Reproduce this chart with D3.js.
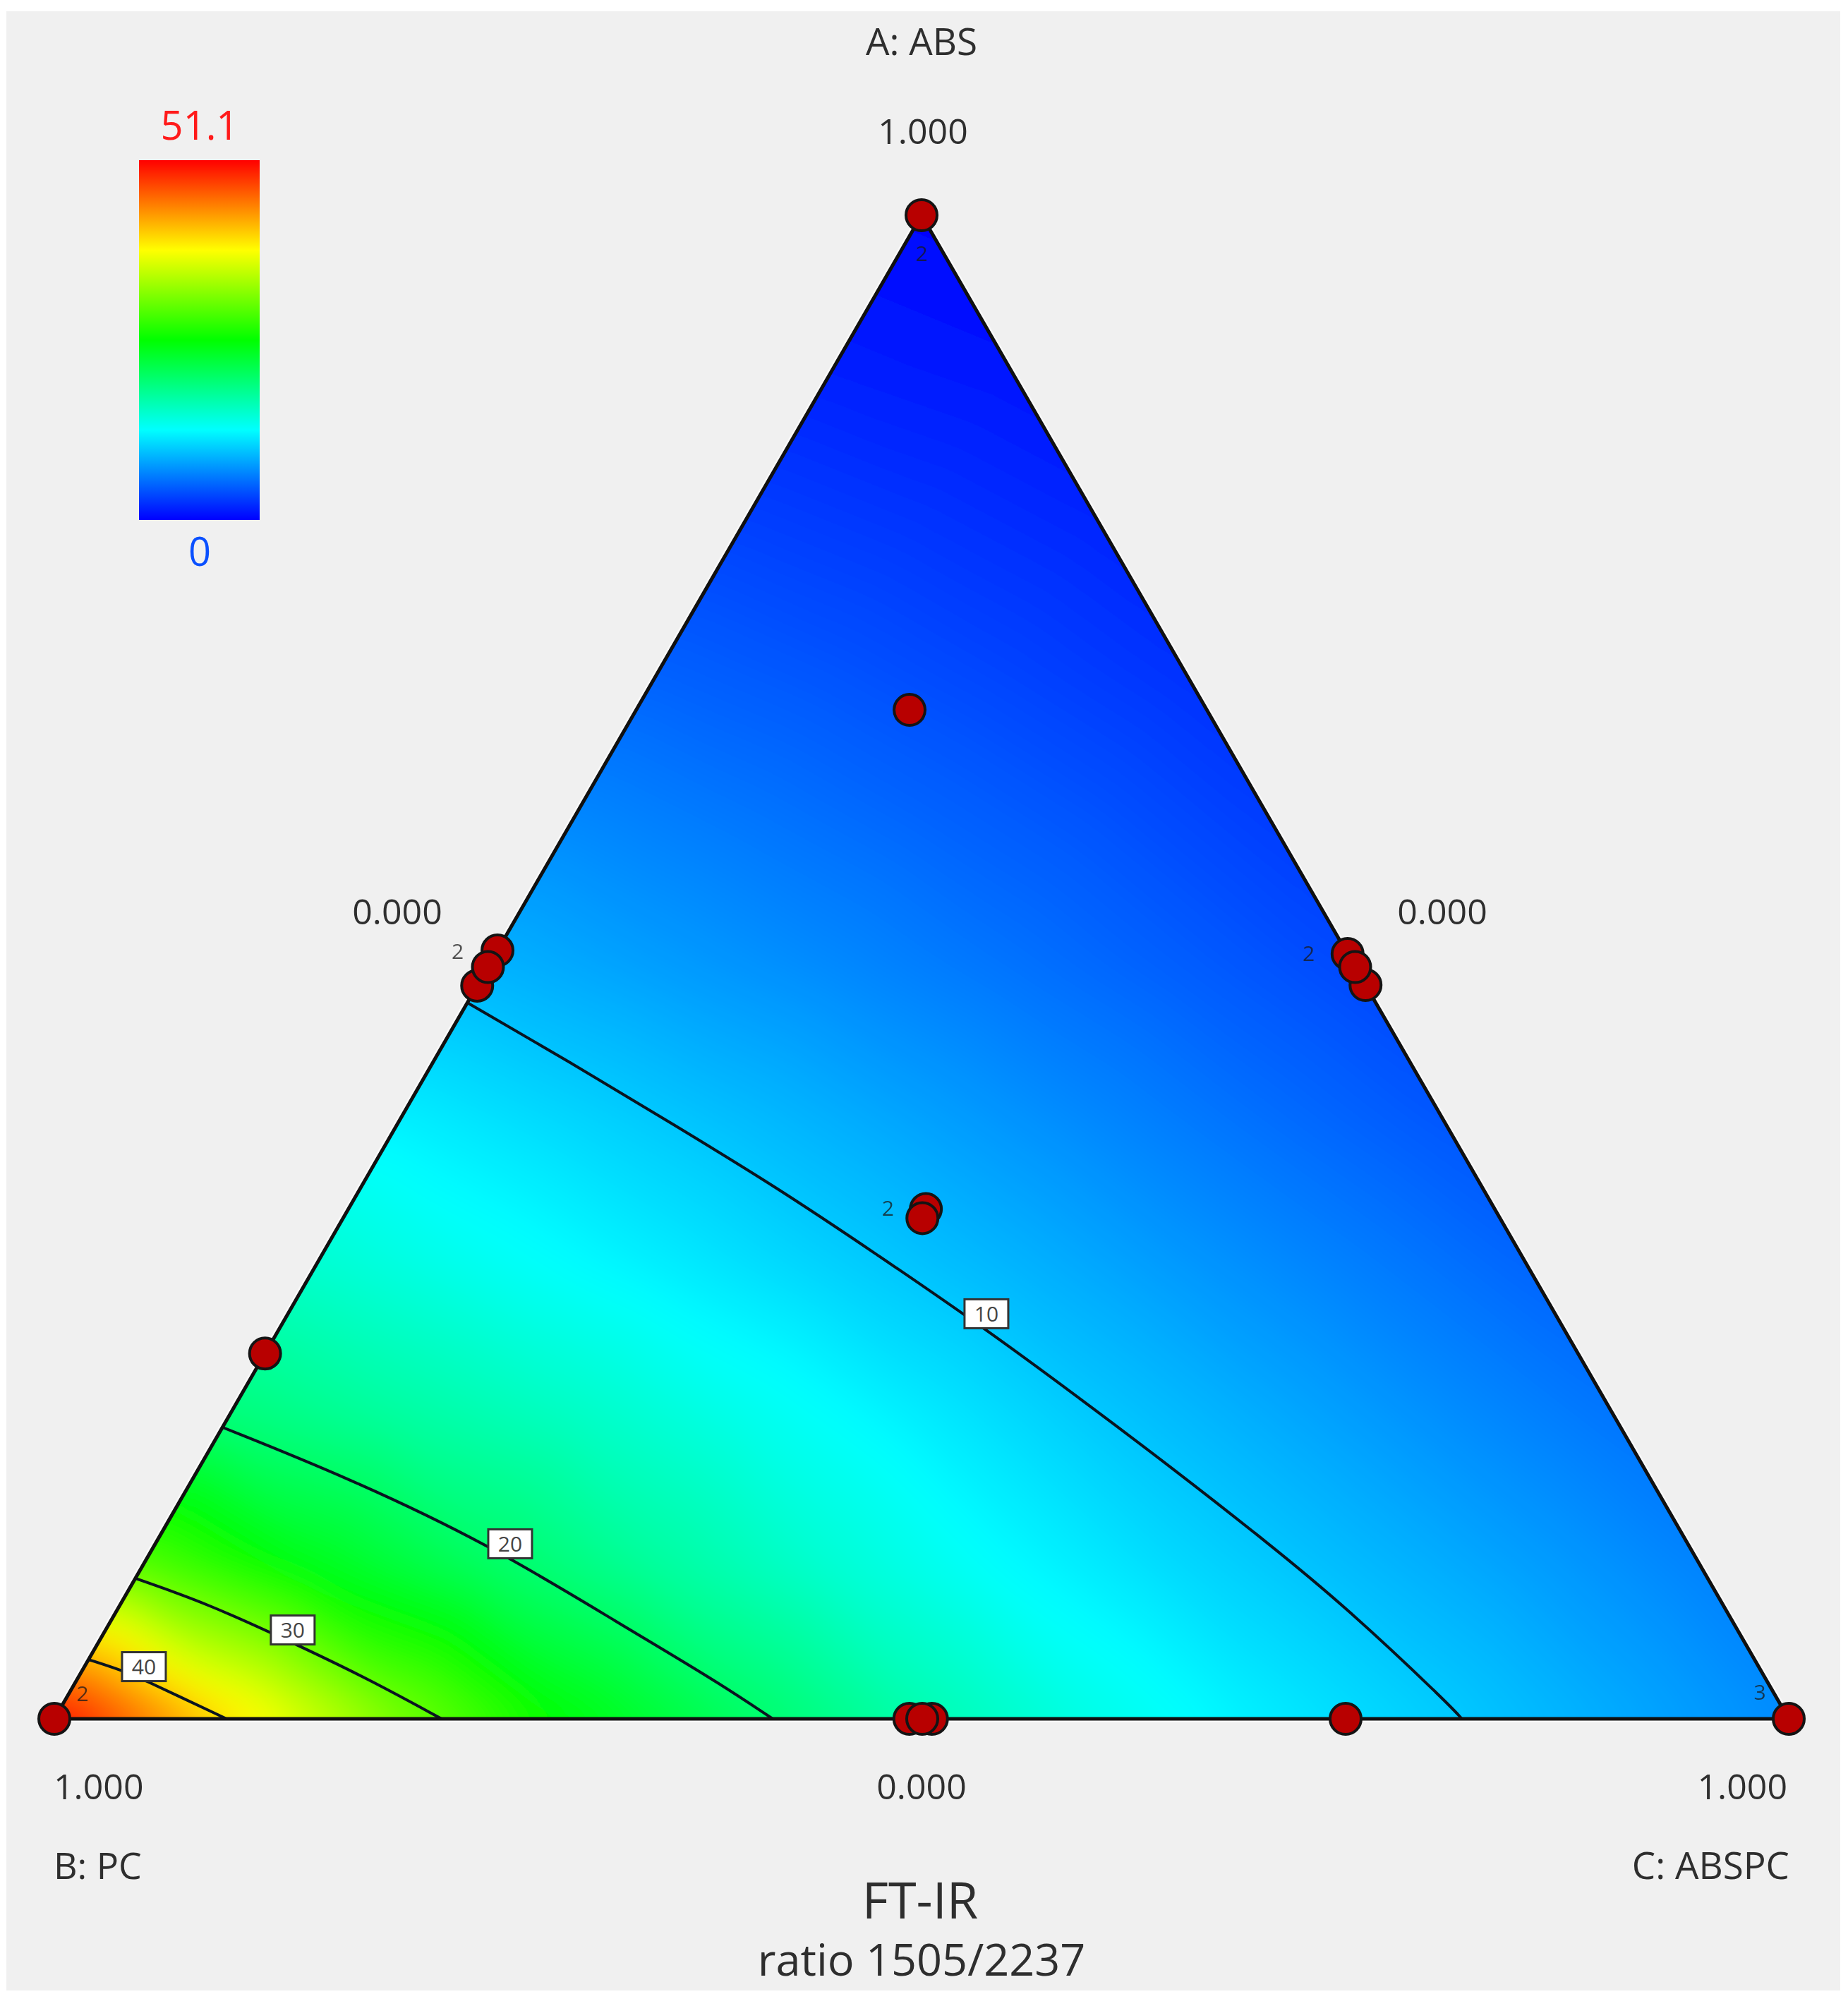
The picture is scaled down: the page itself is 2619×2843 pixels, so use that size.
<!DOCTYPE html>
<html>
<head>
<meta charset="utf-8">
<title>FT-IR ratio 1505/2237</title>
<script src="https://d3js.org/d3.v7.min.js"></script>
<style>
  html, body { margin: 0; background: #fff; }
  svg { display: block; }
  text { font-family: "Open Sans", "Noto Sans", sans-serif; fill: #2e2e2e; }
</style>
</head>
<body>
<script>
// response on a 0.1 lattice. rows go A = 0, 0.1 ... 1,
// each row from the PC side (C = 0) to the ABSPC side (B = 0)
const latticeRows = [
  [51.1, 40, 31.5, 25, 20.6, 16.9, 14, 11.9, 10.3, 8.6, 7],
  [29.8, 24.5, 20.8, 17.7, 15, 12.7, 10.9, 9.4, 8, 6.6],
  [19.6, 17.6, 15.8, 13.8, 11.9, 10.1, 8.6, 7.2, 5.9],
  [15.2, 13.5, 12, 10.5, 9.1, 7.7, 6.4, 5.1],
  [12, 10.7, 9.4, 8.1, 6.8, 5.5, 4.3],
  [9, 7.9, 6.9, 5.8, 4.7, 3.6],
  [6.8, 5.9, 5, 4.1, 3],
  [4.8, 4.1, 3.3, 2.4],
  [3.1, 2.5, 1.8],
  [1.5, 1],
  [0.2]
];

const colorValues = [0, 12.8, 25.55, 38.3, 51.1];
const colorStops = ["#0000ff", "#00ffff", "#00ff00", "#ffff00", "#ff0000"];
const legendLabels = ["51.1", "0"];

// design points as [A, B, C], in drawing order
const designPoints = [
  [1, 0, 0],
  [0.671, 0.1714, 0.1576],
  [0.511, 0.489, 0],
  [0.4876, 0.5124, 0],
  [0.5, 0.5, 0],
  [0.5087, 0, 0.4913],
  [0.488, 0, 0.512],
  [0.5, 0, 0.5],
  [0.339, 0.328, 0.333],
  [0.333, 0.333, 0.334],
  [0.243, 0.757, 0],
  [0, 1, 0],
  [0, 0, 1],
  [0, 0.507, 0.493],
  [0, 0.494, 0.506],
  [0, 0.4996, 0.5004],
  [0, 0.2555, 0.7445]
];

// small replicate counts next to the points
const replicateText = ["2", "2", "2", "2", "2", "3"];
const replicateAt = [[1, 0, 0], [0.5, 0.5, 0], [0.5, 0, 0.5], [0.333, 0.333, 0.334], [0, 1, 0], [0, 0, 1]];

// contour lines as [A, B] pairs
const contourLevels = [10, 20, 30, 40];
const contour10 = [[0.4758, 0.5233], [0.4359, 0.4834], [0.3951, 0.4453], [0.3543, 0.4075], [0.3092, 0.3715], [0.2586, 0.3329], [0.2135, 0.3025], [0.1666, 0.2719], [0.1173, 0.242], [0.0741, 0.218], [0.0113, 0.1917], [0, 0.1884]];
const contour20 = [[0.1938, 0.806], [0.161, 0.7515], [0.1164, 0.6916], [0.0624, 0.6417], [0.0263, 0.6069], [0, 0.5858]];
const contour30 = [[0.0934, 0.9066], [0.0765, 0.8731], [0.0497, 0.836], [0.0263, 0.8054], [0, 0.7767]];
const contour40 = [[0.0394, 0.9606], [0.0319, 0.9442], [0.0253, 0.9344], [0, 0.9007]];
const contourLines = [contour10, contour20, contour30, contour40];
const contourLabelAt = [[0.2694, 0.3279], [0.1164, 0.679], [0.0591, 0.833], [0.0347, 0.931]];

const width = 2619;
const height = 2843;

const svg = d3.select("body").append("svg")
  .attr("width", width)
  .attr("height", height);

svg.append("rect")
  .attr("x", 9).attr("y", 16)
  .attr("width", 2599).attr("height", 2805)
  .attr("fill", "#f0f0f0");

// ternary position: x from C - B, y from A
const x = d3.scaleLinear().domain([-1, 1]).range([77, 2535]);
const y = d3.scaleLinear().domain([0, 1]).range([2436, 305]);
const pos = (p) => [x(p[2] - p[1]), y(p[0])];
const posAB = (p) => pos([p[0], p[1], 1 - p[0] - p[1]]);

const color = d3.scaleLinear().domain(colorValues).range(colorStops).clamp(true);

const corners = [[1, 0, 0], [0, 1, 0], [0, 0, 1]].map(pos);
const trianglePath = "M" + corners.join("L") + "Z";

// look up the lattice, flat inside each small triangle
function responseAt(a, c) {
  a = Math.max(0, Math.min(1, a));
  c = Math.max(0, Math.min(1 - a, c));
  const u = a * 10, w = c * 10;
  const i = Math.min(9, Math.floor(u));
  const j = Math.min(9 - i, Math.floor(w));
  const fu = u - i, fw = w - j;
  if (fu + fw <= 1 || i + j >= 9) {
    return (1 - fu - fw) * latticeRows[i][j] + fu * latticeRows[i + 1][j] + fw * latticeRows[i][j + 1];
  }
  return (fu + fw - 1) * latticeRows[i + 1][j + 1] + (1 - fw) * latticeRows[i + 1][j] + (1 - fu) * latticeRows[i][j + 1];
}

// paint the surface into an image, with a margin so the blur has no edge
const margin = 90;
const fx = 77 - margin, fy = 305 - margin;
const fw = 2458 + margin * 2, fh = 2131 + margin * 2;
const canvas = document.createElement("canvas");
canvas.width = fw;
canvas.height = fh;
const ctx = canvas.getContext("2d");
const img = ctx.createImageData(fw, fh);
const lut = d3.range(2048).map((k) => d3.rgb(color(k / 2047 * 51.1)));
for (let py = 0; py < fh; py++) {
  const a = y.invert(py + fy);
  for (let px = 0; px < fw; px++) {
    const d = x.invert(px + fx);
    const c = (1 - a + d) / 2;
    const k = Math.max(0, Math.min(2047, Math.round(responseAt(a, c) / 51.1 * 2047)));
    const col = lut[k];
    const o = (py * fw + px) * 4;
    img.data[o] = col.r;
    img.data[o + 1] = col.g;
    img.data[o + 2] = col.b;
    img.data[o + 3] = 255;
  }
}
ctx.putImageData(img, 0, 0);

const defs = svg.append("defs");
defs.append("clipPath").attr("id", "tri").append("path").attr("d", trianglePath);
defs.append("filter").attr("id", "soft")
  .attr("filterUnits", "userSpaceOnUse")
  .attr("x", fx).attr("y", fy).attr("width", fw).attr("height", fh)
  .append("feGaussianBlur").attr("stdDeviation", 24);

// faint light edge outside the frame, the reference has it from sharpening
svg.append("path")
  .attr("d", trianglePath)
  .attr("fill", "none")
  .attr("stroke", "#fff")
  .attr("stroke-opacity", 0.6)
  .attr("stroke-width", 10)
  .attr("stroke-linejoin", "round");

svg.append("g").attr("clip-path", "url(#tri)")
  .append("image")
  .attr("x", fx).attr("y", fy)
  .attr("width", fw).attr("height", fh)
  .attr("href", canvas.toDataURL("image/png"))
  .attr("filter", "url(#soft)");

const line = d3.line().curve(d3.curveBasis);

svg.append("g").attr("clip-path", "url(#tri)")
  .selectAll("path")
  .data(contourLines)
  .join("path")
  .attr("d", (d) => line(d.map(posAB)))
  .attr("fill", "none")
  .attr("stroke", "#0a1420")
  .attr("stroke-width", 4);

svg.append("path")
  .attr("d", trianglePath)
  .attr("fill", "none")
  .attr("stroke", "#101010")
  .attr("stroke-width", 5)
  .attr("stroke-linejoin", "round");

// contour value boxes
const boxW = 62, boxH = 41;
const boxes = svg.append("g").selectAll("g")
  .data(contourLevels)
  .join("g")
  .attr("transform", (d, i) => "translate(" + posAB(contourLabelAt[i]) + ")");
boxes.append("rect")
  .attr("x", -boxW / 2).attr("y", -boxH / 2)
  .attr("width", boxW).attr("height", boxH)
  .attr("fill", "#fff")
  .attr("stroke", "#333")
  .attr("stroke-width", 3);
boxes.append("text")
  .attr("text-anchor", "middle")
  .attr("y", 11)
  .style("font-size", "30px")
  .style("fill", "#444")
  .text((d) => d);

// design points
svg.append("g").selectAll("circle")
  .data(designPoints)
  .join("circle")
  .attr("cx", (d) => pos(d)[0])
  .attr("cy", (d) => pos(d)[1])
  .attr("r", 22)
  .attr("fill", "#b80000")
  .attr("stroke", "#141414")
  .attr("stroke-width", 4);

// replicate counts, offsets are where the plot puts them relative to the point
const replicateOffset = [[0, 65], [-43, -12], [-66, -9], [-49, -3], [40, -25], [-41, -27]];
svg.append("g").selectAll("text")
  .data(replicateText)
  .join("text")
  .attr("x", (d, i) => pos(replicateAt[i])[0] + replicateOffset[i][0])
  .attr("y", (d, i) => pos(replicateAt[i])[1] + replicateOffset[i][1])
  .attr("text-anchor", "middle")
  .style("font-size", "30px")
  .style("fill", "#1a1a1a")
  .style("opacity", 0.75)
  .text((d) => d);

// legend bar
const legendTop = 227, legendBottom = 737, legendLeft = 197, legendRight = 368;
const legendScale = d3.scaleLinear().domain([0, 51.1]).range([100, 0]);
const grad = defs.append("linearGradient").attr("id", "legend")
  .attr("x1", 0).attr("x2", 0).attr("y1", 0).attr("y2", 1);
grad.selectAll("stop")
  .data(colorValues.slice().reverse())
  .join("stop")
  .attr("offset", (d) => legendScale(d) + "%")
  .attr("stop-color", (d) => color(d));
svg.append("rect")
  .attr("x", legendLeft).attr("y", legendTop)
  .attr("width", legendRight - legendLeft)
  .attr("height", legendBottom - legendTop)
  .attr("fill", "url(#legend)");
svg.append("text")
  .attr("x", 283).attr("y", 198)
  .attr("text-anchor", "middle")
  .style("font-size", "56px")
  .style("fill", "#ff1a1a")
  .text(legendLabels[0]);
svg.append("text")
  .attr("x", 283).attr("y", 802)
  .attr("text-anchor", "middle")
  .style("font-size", "56px")
  .style("fill", "#0a50ff")
  .text(legendLabels[1]);

// axis and title text
const labels = [
  ["A: ABS", 1306, 78, "middle", 53],
  ["1.000", 1308, 204, "middle", 50],
  ["0.000", 563, 1310, "middle", 50],
  ["0.000", 2044, 1310, "middle", 50],
  ["1.000", 76, 2550, "start", 50],
  ["0.000", 1306, 2550, "middle", 50],
  ["1.000", 2533, 2550, "end", 50],
  ["B: PC", 76, 2663, "start", 52],
  ["C: ABSPC", 2536, 2663, "end", 53],
  ["FT-IR", 1304, 2719, "middle", 72],
  ["ratio 1505/2237", 1306, 2800, "middle", 63]
];
svg.append("g").selectAll("text")
  .data(labels)
  .join("text")
  .attr("x", (d) => d[1])
  .attr("y", (d) => d[2])
  .attr("text-anchor", (d) => d[3])
  .style("font-size", (d) => d[4] + "px")
  .text((d) => d[0]);
</script>
</body>
</html>
